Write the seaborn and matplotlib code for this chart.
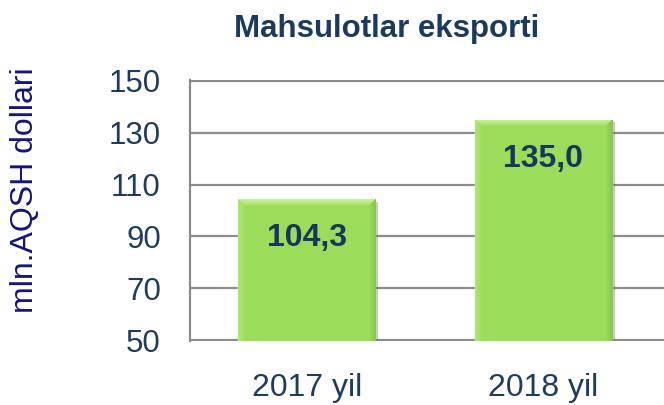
import numpy as np
import matplotlib
matplotlib.use('Agg')
import matplotlib.pyplot as plt
import matplotlib.patheffects as pe
import seaborn as sns
import pandas as pd

# data
years = ['2017 yil', '2018 yil']
values = [104.3, 135.0]
value_labels = ['104,3', '135,0']
y_ticks = [50, 70, 90, 110, 130, 150]

sns.set_style('white')
plt.rcParams['font.family'] = ['Liberation Sans', 'DejaVu Sans']

df = pd.DataFrame({'year': years, 'value': values})

W, H = 664, 405
fig = plt.figure(figsize=(W / 100, H / 100), dpi=100)
ax = fig.add_axes([190 / W, 64 / H, (W - 190) / W, 261 / H])
sns.barplot(data=df, x='year', y='value', color='#9BDD5A', saturation=1,
            width=0.58, ax=ax, zorder=3)

ymin = 49.7
ax.set_ylim(ymin, 150.3)
ax.set_xlim(-0.494, 1.51)
ax.set_yticks(y_ticks)
ax.yaxis.grid(True, color='#8C8C8C', lw=1.6, zorder=0)
ax.set_axisbelow(True)
for s in ['top', 'right', 'bottom']:
    ax.spines[s].set_visible(False)
ax.spines['left'].set_color('#8C8C8C')
ax.spines['left'].set_linewidth(1.6)
ax.tick_params(axis='y', length=0, pad=21, labelsize=22.5, labelcolor='#1F3B5F')
ax.tick_params(axis='x', length=0, pad=23, labelsize=23, labelcolor='#1F3B5F')
ax.set_xlabel('')
ax.set_ylabel('')

# soft bevel fill, built at pixel size of each bar
base = np.array([0.61, 0.866, 0.353])
light = np.array([0.80, 0.95, 0.60])
dark = np.array([0.47, 0.72, 0.26])
for p in ax.patches:
    x0, w, h = p.get_x(), p.get_width(), p.get_height()
    (px0, py0), (px1, py1) = ax.transData.transform([(x0, ymin), (x0 + w, h)])
    nx, ny = max(int(px1 - px0), 10), max(int(py1 - py0), 10)
    img = np.tile(base, (ny, nx, 1))
    bev = 7
    for k in range(bev):
        t = 1 - k / bev
        img[k, k:nx - k] = base + (light - base) * t
        img[k:ny, k] = base + (light - base) * t * 0.4
        img[k:ny, nx - 1 - k] = base + (dark - base) * t * 0.6
    p.set_path_effects([pe.SimplePatchShadow(offset=(2, -2), shadow_rgbFace='#555555', alpha=0.35),
                        pe.Normal()])
    im = ax.imshow(img, extent=[x0, x0 + w, ymin, h], aspect='auto', zorder=4,
                   interpolation='bilinear')
    im.set_clip_path(p)

for i, (v, lab) in enumerate(zip(values, value_labels)):
    ax.annotate(lab, xy=(i, v), xytext=(0, -17.3), textcoords='offset points',
                ha='center', va='top', fontsize=23, fontweight='bold',
                color='#17375E', zorder=5)

fig.text(387 / W, (H - 37) / H, 'Mahsulotlar eksporti', ha='center',
         va='baseline', fontsize=22.5, fontweight='bold', color='#1B3A5E')
fig.text(25 / W, (H - 190) / H, 'mln.AQSH dollari', rotation=90,
         ha='center', va='center', fontsize=23, color='#141480')

fig.savefig('out.png', dpi=100)
